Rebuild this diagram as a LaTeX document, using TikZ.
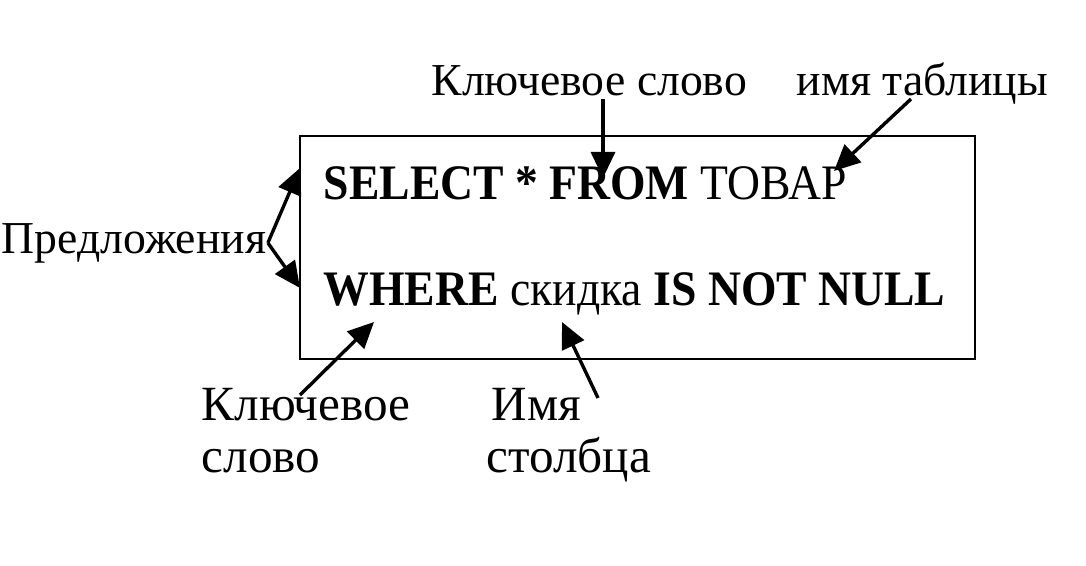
\documentclass[tikz,border=0pt]{standalone}
\usepackage{fontspec}
\setmainfont{Liberation Serif}
\newfontfamily\boxfont{Liberation Serif}[FakeStretch=0.92]
\usetikzlibrary{arrows.meta}

\begin{document}
\begin{tikzpicture}[x=0.025cm,y=-0.025cm,>={Triangle[length=6.5mm,width=6mm]},line width=2.4pt,
  code/.style={anchor=base west,inner sep=0pt,font=\boxfont\fontsize{35.3}{42}\selectfont},
  lbl/.style={anchor=base west,inner sep=0pt,font=\fontsize{32.5}{38}\selectfont},
  big/.style={anchor=base west,inner sep=0pt,font=\fontsize{35}{42}\selectfont}]
\useasboundingbox (0,0) rectangle (1086,566);
% query box
\draw[line width=1.7pt] (300,136) rectangle (975,359);
\node[code] (sel) at (322,199) {\textbf{SELECT * FROM} ТОВАР};
\node[code] (whr) at (322,305) {\textbf{WHERE} скидка \textbf{IS NOT NULL}};
% labels
\node[lbl] (kw) at (430,95) {Ключевое слово};
\node[lbl] (tab) at (795,95) {имя таблицы};
\node[lbl] (pred) at (0,253) {Предложения};
\node[big] (kwa) at (200,420) {Ключевое};
\node[big] (kwb) at (200,472) {слово};
\node[big] (cola) at (490,420) {Имя};
\node[big] (colb) at (485,472) {столбца};
% arrow ends
\coordinate (kwS) at (603,99);
\coordinate (kwT) at (603,178);
\coordinate (tabS) at (911,99);
\coordinate (tabT) at (834,171);
\coordinate (selT) at (300,168);
\coordinate (whrT) at (300,288);
\coordinate (kwbS) at (300,395);
\coordinate (kwbT) at (374,322);
\coordinate (colS) at (598,398);
\coordinate (colT) at (562,322);
% arrows
\draw[->] (kwS) -- (kwT);
\draw[->] (tabS) -- (tabT);
\draw[->] (pred.east) -- (selT);
\draw[->] (pred.east) -- (whrT);
\draw[->] (kwbS) -- (kwbT);
\draw[->] (colS) -- (colT);
\end{tikzpicture}
\end{document}
